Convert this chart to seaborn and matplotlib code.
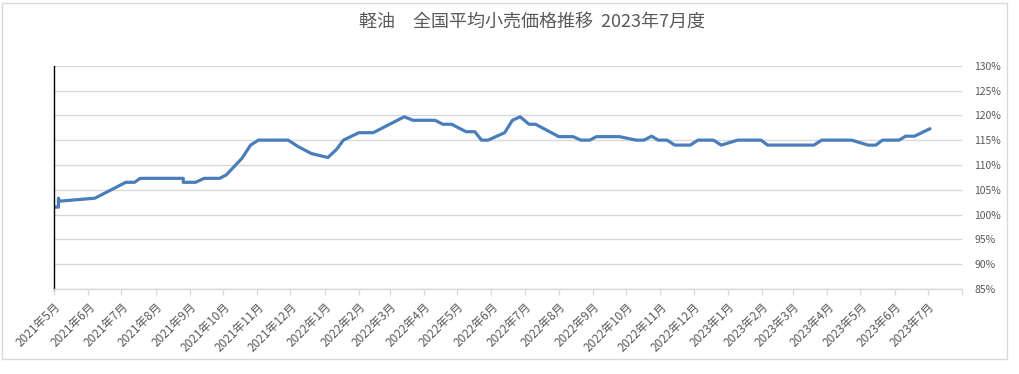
import matplotlib
matplotlib.use("Agg")
import matplotlib.pyplot as plt
from matplotlib.patches import Rectangle
import pandas as pd
import seaborn as sns

title = "軽油　全国平均小売価格推移  2023年7月度"

dates = [
    "2021-05-01", "2021-05-05", "2021-05-05", "2021-05-06", "2021-06-07",
    "2021-07-05", "2021-07-13", "2021-07-18", "2021-08-26", "2021-08-26",
    "2021-09-06", "2021-09-14", "2021-09-28", "2021-10-04", "2021-10-18",
    "2021-10-26", "2021-11-02", "2021-11-29", "2021-12-08", "2021-12-20",
    "2022-01-04", "2022-01-12", "2022-01-18", "2022-02-01", "2022-02-14",
    "2022-02-28", "2022-03-14", "2022-03-22", "2022-04-11", "2022-04-18",
    "2022-04-26", "2022-05-09", "2022-05-17", "2022-05-23", "2022-05-29",
    "2022-06-13", "2022-06-20", "2022-06-27", "2022-07-05", "2022-07-11",
    "2022-08-01", "2022-08-14", "2022-08-21", "2022-08-29", "2022-09-04",
    "2022-09-25", "2022-10-10", "2022-10-17", "2022-10-24", "2022-10-30",
    "2022-11-07", "2022-11-14", "2022-11-28", "2022-12-05", "2022-12-19",
    "2022-12-26", "2023-01-10", "2023-01-31", "2023-02-06", "2023-03-20",
    "2023-03-27", "2023-04-23", "2023-05-08", "2023-05-15", "2023-05-21",
    "2023-06-05", "2023-06-11", "2023-06-19", "2023-07-03",
]
values = [
    101.5, 101.5, 103.3, 102.7, 103.3,
    106.5, 106.5, 107.3, 107.3, 106.5,
    106.5, 107.3, 107.3, 108.0, 111.3,
    114.0, 115.0, 115.0, 113.7, 112.3,
    111.5, 113.2, 115.0, 116.5, 116.5,
    118.1, 119.7, 119.0, 119.0, 118.2,
    118.2, 116.7, 116.7, 115.0, 115.0,
    116.5, 119.0, 119.7, 118.2, 118.2,
    115.7, 115.7, 115.0, 115.0, 115.7,
    115.7, 115.0, 115.0, 115.8, 115.0,
    115.0, 114.0, 114.0, 115.0, 115.0,
    114.0, 115.0, 115.0, 114.0, 114.0,
    115.0, 115.0, 114.0, 114.0, 115.0,
    115.0, 115.8, 115.8, 117.3,
]

month_ticks = [
    "2021-05-01", "2021-06-01", "2021-07-01", "2021-08-01", "2021-09-01",
    "2021-10-01", "2021-11-01", "2021-12-01", "2022-01-01", "2022-02-01",
    "2022-03-01", "2022-04-01", "2022-05-01", "2022-06-01", "2022-07-01",
    "2022-08-01", "2022-09-01", "2022-10-01", "2022-11-01", "2022-12-01",
    "2023-01-01", "2023-02-01", "2023-03-01", "2023-04-01", "2023-05-01",
    "2023-06-01", "2023-07-01", "2023-08-01",
]
month_labels = [
    "2021年5月", "2021年6月", "2021年7月", "2021年8月", "2021年9月",
    "2021年10月", "2021年11月", "2021年12月", "2022年1月", "2022年2月",
    "2022年3月", "2022年4月", "2022年5月", "2022年6月", "2022年7月",
    "2022年8月", "2022年9月", "2022年10月", "2022年11月", "2022年12月",
    "2023年1月", "2023年2月", "2023年3月", "2023年4月", "2023年5月",
    "2023年6月", "2023年7月", "",
]
y_ticks = [85, 90, 95, 100, 105, 110, 115, 120, 125, 130]

sns.set_theme(style="white")
plt.rcParams["font.family"] = ["Noto Sans CJK JP", "DejaVu Sans"]

df = pd.DataFrame({"date": pd.to_datetime(dates), "value": values})

W, H = 1020, 374
fig = plt.figure(figsize=(W / 100, H / 100), dpi=100)
ax = fig.add_axes([54 / W, 1 - 289 / H, (962 - 54) / W, (289 - 65.7) / H])

sns.lineplot(data=df, x="date", y="value", ax=ax, estimator=None, sort=False,
             color="#4A7EBB", linewidth=2.3)

ticks = pd.to_datetime(month_ticks)
ax.set_xlim(ticks[0], ticks[-1])
ax.set_xticks(ticks)
ax.set_xticklabels(month_labels, rotation=45, ha="right", rotation_mode="anchor",
                   fontsize=8.5, color="#595959")
ax.set_ylim(85, 130)
ax.set_yticks(y_ticks)
ax.set_yticklabels([f"{v}%" for v in y_ticks], fontsize=7.5, color="#595959")
ax.yaxis.tick_right()
ax.set_xlabel("")
ax.set_ylabel("")
ax.grid(axis="y", color="#D9D9D9", linewidth=1)
ax.set_axisbelow(True)
ax.tick_params(axis="x", length=4, width=1, color="#D9D9D9", pad=4, bottom=True)
ax.tick_params(axis="y", length=0, pad=9)
for s in ["top", "right"]:
    ax.spines[s].set_visible(False)
ax.spines["bottom"].set_color("#D9D9D9")
ax.spines["bottom"].set_linewidth(1)
ax.spines["left"].set_color("black")
ax.spines["left"].set_linewidth(1)

fig.text(532 / W, 1 - 22 / H, title, ha="center", va="center", fontsize=13,
         color="#595959")
fig.patches.append(Rectangle((2 / W, 1 - 359 / H), (1007 - 2) / W, (359 - 3) / H,
                             transform=fig.transFigure, fill=False,
                             edgecolor="#D9D9D9", linewidth=1))

fig.savefig("out.png", dpi=100)
